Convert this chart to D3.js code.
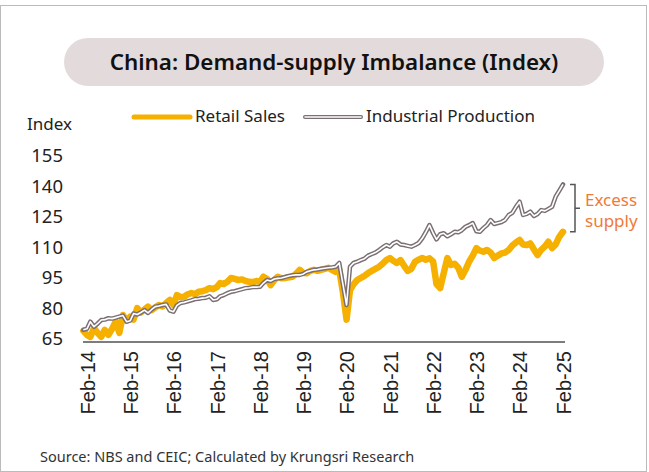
<html>
<script src="https://d3js.org/d3.v7.min.js"></script>
<style>
  body { margin: 0; background: #fff; }
  text { font-family: "Noto Sans", sans-serif; }
</style>
<body>
<svg width="649" height="472"></svg>
<script>
// monthly data, Jan-2014 .. Feb-2025
const startMonth = new Date(2014, 0, 1);
const retailSales = [
  69, 67, 66, 70.4, 68, 66, 69.5, 67, 70, 73.5, 68, 76.8,
  74, 76, 74.5, 80.2, 78, 79.5, 80.9, 79.2, 80.5, 81.7, 81, 82.7,
  84.2, 81.7, 86.6, 85.5, 85.8, 87, 87.6, 87, 88.2, 88.5, 89, 90,
  89.5, 90.5, 92.5, 92, 93.1, 95, 94.5, 94, 94.3, 93.5, 93.1, 93,
  93.5, 93.1, 95.6, 94.5, 91.5, 94, 95.6, 94.8, 95, 95.3, 95.6, 97,
  99, 97.5, 97.3, 98.5, 99, 98.5, 99, 99.5, 100, 99, 98, 99,
  88, 74.5, 89, 92, 94, 95, 96, 97.4, 98.5, 99.5, 100.5, 102,
  103.8, 104.8, 103.5, 102.4, 103.8, 101, 98.5, 99.5, 103, 104, 104.8, 104,
  104.7, 103, 92, 90, 97.3, 104.8, 101.4, 102, 100, 95.6, 99, 103,
  106, 109.7, 108.5, 107.9, 108.8, 107.5, 104.8, 106, 107.1, 107.5, 108.8, 111,
  112.5, 113.7, 111.5, 111.2, 112, 109, 106.3, 108.8, 110.5, 112.8, 109.7, 111.5,
  115.3, 117.7
];
const industrialProduction = [
  69.5, 70, 73.5, 71, 72.5, 74.3, 74.5, 75.2, 75, 75.5, 76, 76.5,
  73.5, 74, 77.5, 77, 78, 79.2, 77.8, 79.5, 80.9, 81.2, 81.7, 82,
  79, 78.4, 81.5, 82.7, 83, 83.5, 84, 84.6, 84.8, 85.1, 85.3, 86,
  84.2, 84.5, 86, 86.6, 87.5, 88.2, 88.5, 89, 89.5, 90, 90.2, 90.5,
  90.5, 90.7, 92.5, 94, 93.5, 94.5, 94.8, 95, 95.5, 96, 96.3, 96.5,
  96.5, 97, 98, 98.5, 99, 99.2, 99.5, 99.8, 100, 100.2, 100.5, 102.4,
  92, 81.7, 100.5, 102.4, 103, 103.8, 104.5, 106, 106.8, 107.5, 108.7, 110,
  111.2, 110.4, 112, 112.8, 111.5, 111.2, 110.8, 110.4, 111.2, 112.2, 114.5, 117.5,
  121, 117, 114, 116.5, 117, 115.5, 116.5, 117.7, 117.5, 118.5, 120.2, 121,
  122, 118, 117.7, 119.5, 121, 123.5, 121.5, 122, 122.5, 123.5, 126, 127,
  130, 132.5, 126, 126.5, 127.6, 125.5, 126.5, 128.4, 128, 129, 130, 135,
  138, 141
];
const yTicks = [65, 80, 95, 110, 125, 140, 155];
const xTickYears = [2014, 2015, 2016, 2017, 2018, 2019, 2020, 2021, 2022, 2023, 2024, 2025];
const seriesNames = ["Retail Sales", "Industrial Production"];

const svg = d3.select("svg");
const months = retailSales.map((d, i) => d3.timeMonth.offset(startMonth, i));

const x = d3.scaleTime()
  .domain([new Date(2014, 1, 1), new Date(2025, 1, 1)])
  .range([87, 563]);
const y = d3.scaleLinear().domain([63.5, 155]).range([342, 156]);

// frame
svg.append("rect")
  .attr("x", 0.5).attr("y", 5.5).attr("width", 646).attr("height", 466)
  .attr("fill", "none").attr("stroke", "#bbb").attr("stroke-width", 1);

// title pill
svg.append("rect")
  .attr("x", 64).attr("y", 38).attr("width", 540).attr("height", 48)
  .attr("rx", 24).attr("fill", "#e3dbdb");
svg.append("text")
  .attr("x", 334).attr("y", 70)
  .attr("text-anchor", "middle")
  .style("font-size", "22.4px").style("font-weight", "600").style("fill", "#111")
  .text("China: Demand-supply Imbalance (Index)");

// legend
const leg = svg.append("g");
leg.append("line").attr("x1", 134).attr("x2", 190).attr("y1", 117).attr("y2", 117)
  .attr("stroke", "#f5b000").attr("stroke-width", 5).attr("stroke-linecap", "round");
leg.append("text").attr("x", 195).attr("y", 122)
  .style("font-size", "17px").style("fill", "#222").text(seriesNames[0]);
leg.append("line").attr("x1", 305).attr("x2", 361).attr("y1", 117).attr("y2", 117)
  .attr("stroke", "#7a6f72").attr("stroke-width", 4).attr("stroke-linecap", "round");
leg.append("line").attr("x1", 305).attr("x2", 361).attr("y1", 117).attr("y2", 117)
  .attr("stroke", "#fff").attr("stroke-width", 1.5).attr("stroke-linecap", "round");
leg.append("text").attr("x", 366).attr("y", 122)
  .style("font-size", "17px").style("fill", "#222").text(seriesNames[1]);

svg.append("text").attr("x", 27).attr("y", 130)
  .style("font-size", "17px").style("fill", "#222").text("Index");

// y axis labels
svg.append("g").selectAll("text")
  .data(yTicks).enter().append("text")
    .attr("x", 63).attr("y", d => y(d))
    .attr("dy", "0.35em").attr("text-anchor", "end")
    .style("font-size", "18.5px").style("fill", "#222")
    .text(d => d);

// x axis
const xAxis = svg.append("g")
  .attr("transform", "translate(0,342)")
  .call(d3.axisBottom(x)
    .tickValues(xTickYears.map(yr => new Date(yr, 1, 1)))
    .tickSize(0).tickPadding(0)
    .tickFormat(d3.timeFormat("%b-%y")));
xAxis.select(".domain").remove();
xAxis.selectAll("text")
  .attr("transform", "rotate(-90)")
  .attr("x", -9).attr("y", 0).attr("dy", "0.36em")
  .attr("text-anchor", "end")
  .style("font-family", "'Liberation Sans', Arial, sans-serif")
  .style("font-size", "20px").style("fill", "#222");
svg.append("line")
  .attr("x1", 83).attr("x2", 565).attr("y1", 342).attr("y2", 342)
  .attr("stroke", "#7d7d7d").attr("stroke-width", 2);

// lines
const line = d3.line().x((d, i) => x(months[i])).y(d => y(d));
svg.append("path").datum(retailSales)
  .attr("d", line).attr("fill", "none")
  .attr("stroke", "#f5b000").attr("stroke-width", 6.5)
  .attr("stroke-linejoin", "round").attr("stroke-linecap", "round");
svg.append("path").datum(industrialProduction)
  .attr("d", line).attr("fill", "none")
  .attr("stroke", "#7a6f72").attr("stroke-width", 4.5)
  .attr("stroke-linejoin", "round").attr("stroke-linecap", "round");
svg.append("path").datum(industrialProduction)
  .attr("d", line).attr("fill", "none")
  .attr("stroke", "#fff").attr("stroke-width", 1.6)
  .attr("stroke-linejoin", "round");

// excess supply bracket
const last = retailSales.length - 1;
const yTop = y(industrialProduction[last]), yBot = y(retailSales[last]);
const bx = x(months[last]) + 12;
svg.append("path")
  .attr("d", `M${bx - 5},${yTop} H${bx} V${yBot} H${bx - 5} M${bx},${(yTop + yBot) / 2} H${bx + 5}`)
  .attr("fill", "none").attr("stroke", "#555").attr("stroke-width", 1.5);
svg.append("text").attr("x", 585).attr("y", 206)
  .style("font-size", "17px").style("fill", "#f07a38").text("Excess");
svg.append("text").attr("x", 585).attr("y", 227)
  .style("font-size", "17px").style("fill", "#f07a38").text("supply");

// source
svg.append("text").attr("x", 40).attr("y", 462)
  .style("font-size", "14.5px").style("fill", "#333")
  .text("Source: NBS and CEIC; Calculated by Krungsri Research");
</script>
</body>
</html>
